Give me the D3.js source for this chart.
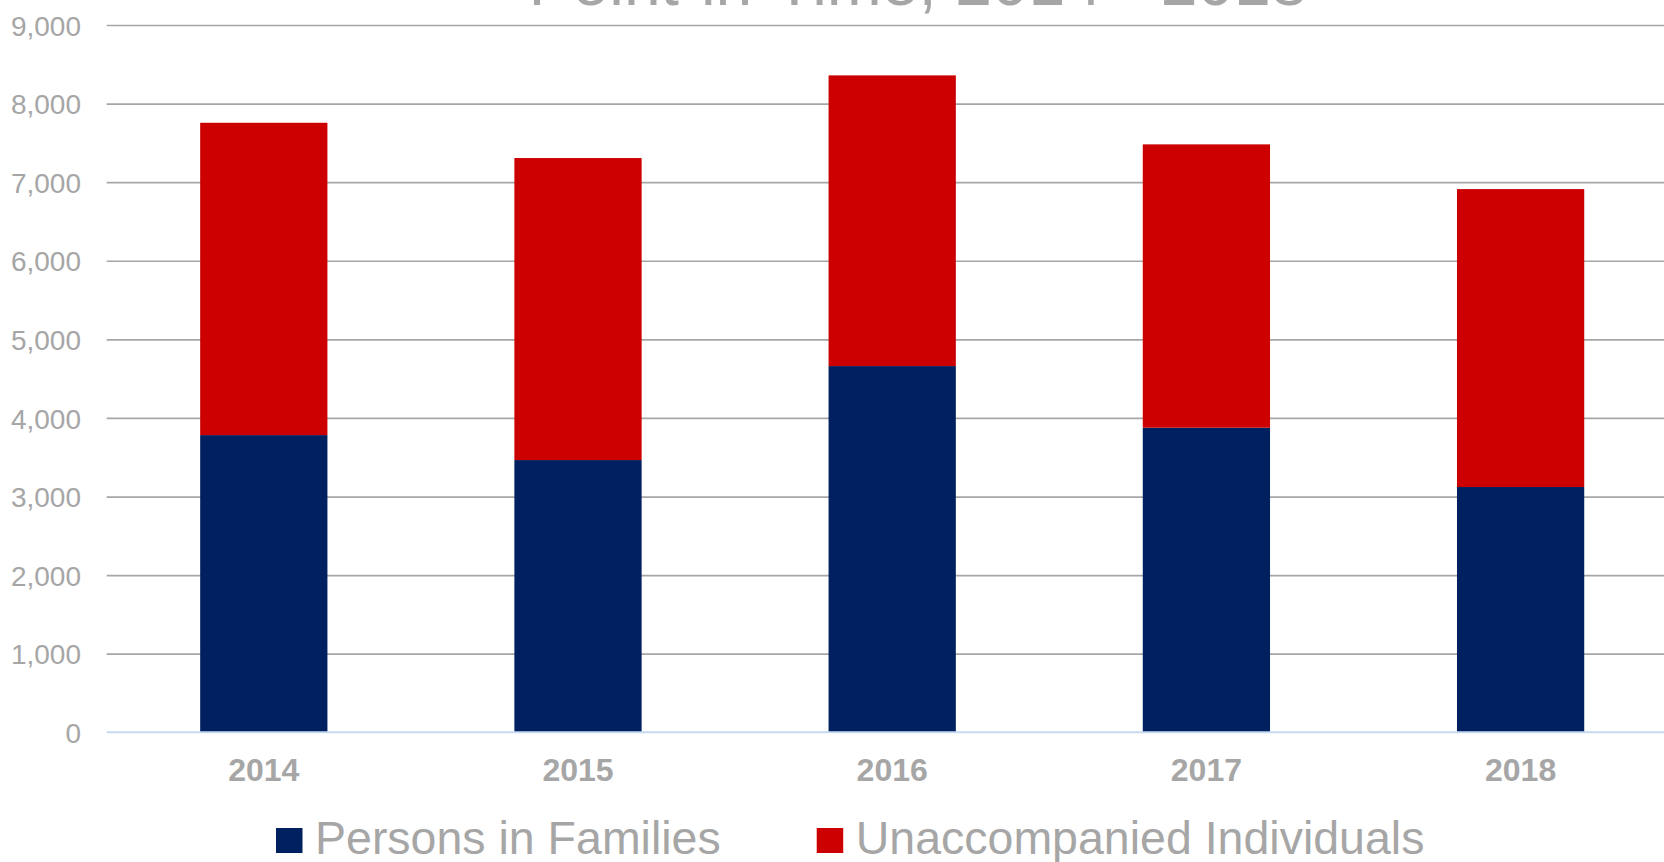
<!DOCTYPE html>
<html>
<head>
<meta charset="utf-8">
<script src="https://cdn.jsdelivr.net/npm/d3@7"></script>
<style>
  html, body { margin: 0; padding: 0; background: #fff; overflow: hidden; }
  svg { display: block; font-family: "Liberation Sans", Arial, sans-serif; }
</style>
</head>
<body>
<div id="chart"></div>
<script>
const years = ["2014", "2015", "2016", "2017", "2018"];
const families = [3782, 3464, 4660, 3876, 3121];
const unaccompanied = [3974, 3843, 3699, 3605, 3791];
const yTicks = [0, 1000, 2000, 3000, 4000, 5000, 6000, 7000, 8000, 9000];
const seriesNames = ["Persons in Families", "Unaccompanied Individuals"];
const seriesColors = ["#002060", "#cc0000"];
const title = "Point-in-Time, 2014 - 2018";

const W = 1664, H = 862;
const plotLeft = 106.7, plotTop = 25, plotBottom = 732.3;
const step = 314.2;
const textGray = "#a6a6a6";

const svg = d3.select("#chart").append("svg")
  .attr("width", W).attr("height", H);

const x = d3.scaleBand()
  .domain(years)
  .range([plotLeft, plotLeft + step * years.length])
  .paddingInner(0.595)
  .paddingOuter(0.2975);

const y = d3.scaleLinear().domain([0, 9000]).range([plotBottom, plotTop]);

// title (cut off at the top, as in the original)
svg.append("text")
  .attr("x", 918)
  .attr("y", 5)
  .attr("text-anchor", "middle")
  .style("fill", textGray)
  .style("font-size", "66px")
  .text(title);

// gridlines + y labels
const yAxis = svg.append("g")
  .attr("transform", `translate(${plotLeft},0)`)
  .call(d3.axisLeft(y).tickValues(yTicks).tickSize(-(W - plotLeft)).tickPadding(25.7)
    .tickFormat(d3.format(",")));
yAxis.select(".domain").remove();
yAxis.selectAll("line")
  .style("stroke", d => d === 0 ? "none" : "#a6a6a6")
  .style("stroke-width", 1.7);
yAxis.selectAll("text")
  .style("fill", textGray)
  .style("font-size", "28px")
  .attr("dy", "0.36em");

// stacked bars
const rows = years.map((yr, i) => ({ year: yr, families: families[i], unaccompanied: unaccompanied[i] }));
const stack = d3.stack().keys(["families", "unaccompanied"])(rows);

svg.append("g")
  .selectAll("g")
  .data(stack)
  .join("g")
  .attr("fill", (d, i) => seriesColors[i])
  .selectAll("rect")
  .data(d => d)
  .join("rect")
  .attr("x", d => x(d.data.year))
  .attr("width", x.bandwidth())
  .attr("y", d => y(d[1]))
  .attr("height", d => y(d[0]) - y(d[1]));

// zero axis line
svg.append("line")
  .attr("x1", plotLeft).attr("x2", W)
  .attr("y1", y(0)).attr("y2", y(0))
  .style("stroke", "#c5d9f1")
  .style("stroke-width", 2);

// x labels
const xAxis = svg.append("g")
  .attr("transform", `translate(0,${plotBottom})`)
  .call(d3.axisBottom(x).tickSize(0).tickPadding(26));
xAxis.select(".domain").remove();
xAxis.selectAll("text")
  .style("fill", textGray)
  .style("font-size", "32px")
  .style("font-weight", "700");

// legend
const legend = svg.append("g").attr("transform", "translate(276,853.5)");
let lx = 0;
seriesNames.forEach((name, i) => {
  const g = legend.append("g").attr("transform", `translate(${lx},0)`);
  g.append("rect")
    .attr("x", 0).attr("y", -25.5)
    .attr("width", 26.5).attr("height", 25)
    .attr("fill", seriesColors[i]);
  const t = g.append("text")
    .attr("x", 39)
    .attr("y", 0)
    .style("fill", textGray)
    .style("font-size", "46.5px")
    .text(name);
  lx += 39 + t.node().getComputedTextLength() + 96;
});
</script>
</body>
</html>
